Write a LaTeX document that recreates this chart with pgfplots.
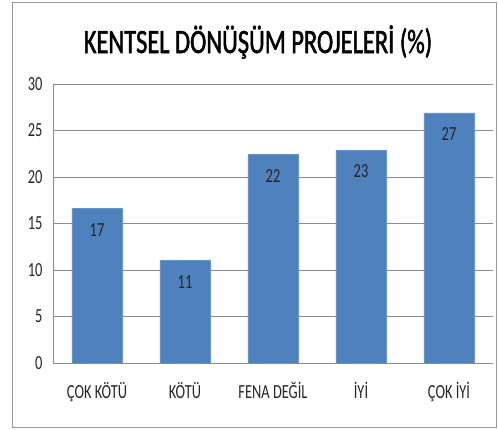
\documentclass[border=0pt]{standalone}
\usepackage{fontspec}
\setmainfont{Carlito}[FakeStretch=0.72]
\newfontfamily\titlefont{Carlito}[FakeStretch=0.72,FakeBold=1.5]
\usepackage{pgfplots}
\pgfplotsset{compat=1.18}
\definecolor{barblue}{RGB}{79,129,189}
\definecolor{gridgray}{RGB}{140,140,140}
\begin{document}
\begin{tikzpicture}[x=1pt,y=1pt]
\useasboundingbox (0,0) rectangle (498,430);
\draw[gray!80, line width=0.8pt] (12,3) rectangle (496,428);
\node[font=\titlefont\fontsize{34}{34}\selectfont] at (258,388) {KENTSEL DÖNÜŞÜM PROJELERİ (\%)};
\begin{axis}[
  at={(53pt,67pt)}, anchor=south west,
  scale only axis, width=440pt, height=279pt,
  xmin=-0.5, xmax=4.5, ymin=0, ymax=30,
  ytick={0,5,...,30},
  xtick=data,
  xticklabels={ÇOK KÖTÜ, KÖTÜ, FENA DEĞİL, İYİ, ÇOK İYİ},
  axis x line*=bottom, axis y line*=left,
  axis line style={gridgray, -},
  ymajorgrids, major grid style={gridgray, line width=0.8pt},
  major tick length=0pt,
  tick label style={font=\fontsize{20}{20}\selectfont, text=black!85},
  /pgf/number format/assume math mode=true,
  yticklabel style={xshift=-7pt},
  xticklabel style={yshift=-16pt},
  point meta=explicit symbolic,
  nodes near coords,
  every node near coord/.append style={anchor=north, yshift=-11pt, font=\fontsize{20}{20}\selectfont, text=black!85},
]
\addplot[ybar, bar width=50pt, fill=barblue, draw=barblue!85!white] coordinates {
  (0,16.6) [17]
  (1,11.0) [11]
  (2,22.4) [22]
  (3,22.9) [23]
  (4,26.9) [27]
};
\end{axis}
\end{tikzpicture}
\end{document}
